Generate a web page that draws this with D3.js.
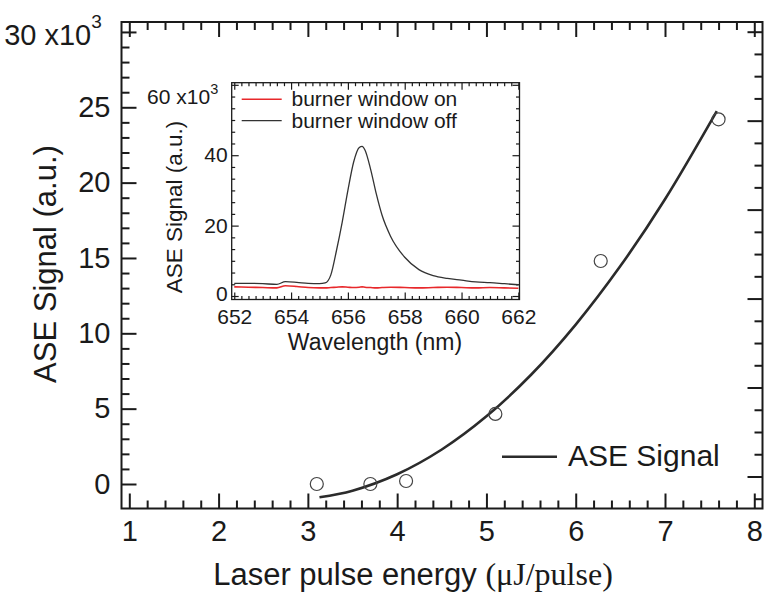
<!DOCTYPE html>
<html lang="en">
<head>
<meta charset="UTF-8">
<title>ASE signal vs laser pulse energy</title>
<style>
  body { margin: 0; background: #fff; }
  svg text { font-family: "Liberation Sans", Arial, sans-serif; fill: #1a1a1a; }
</style>
</head>
<body>
<script src="https://cdn.jsdelivr.net/npm/d3@7"></script>
<script>
// main plot: ASE signal (x10^3 a.u.) against laser pulse energy (uJ/pulse)
const energy    = [3.1, 3.7, 4.1, 5.1, 6.28, 7.6];
const aseSignal = [0.0, 0.0, 0.2, 4.65, 14.8, 24.2];
// fitted curve
const fitEnergy = [3.13, 3.5, 4.0, 4.5, 5.0, 5.5, 6.0, 6.5, 7.0, 7.58];
const fitSignal = [-0.88, -0.44, 0.65, 2.29, 4.49, 7.25, 10.58, 14.46, 18.9, 24.75];
const xTicks = [1, 2, 3, 4, 5, 6, 7, 8];
const yTicks = [0, 5, 10, 15, 20, 25, 30];

// inset: spectra around 656 nm (x10^3 a.u.)
const wavelength = [652.0, 652.5, 653.0, 653.5, 653.8, 654.2, 654.6, 655.0, 655.2, 655.4,
                    655.6, 655.8, 656.0, 656.2, 656.4, 656.5, 656.6, 656.8, 657.0, 657.2,
                    657.5, 658.0, 658.5, 659.0, 659.5, 660.0, 660.5, 661.0, 661.5, 662.0];
const windowOff  = [3.6, 3.6, 3.5, 3.3, 4.1, 3.9, 3.6, 3.5, 3.7, 6.0,
                    13, 21, 30, 38, 42.2, 42.5, 41.5, 36, 29, 23,
                    17, 11, 7.5, 5.8, 5.0, 4.5, 4.0, 3.8, 3.5, 3.2];
const windowOn   = [2.6, 2.5, 2.4, 2.3, 2.9, 2.7, 2.4, 2.3, 2.3, 2.4,
                    2.5, 2.6, 2.5, 2.4, 2.5, 2.6, 2.5, 2.4, 2.3, 2.4,
                    2.5, 2.4, 2.3, 2.4, 2.5, 2.4, 2.3, 2.4, 2.3, 2.2];
const insetXTicks = [652, 654, 656, 658, 660, 662];
const insetYTicks = [0, 20, 40, 60];
const seriesNames = ["burner window on", "burner window off"];

const W = 764, H = 592;
const svg = d3.select("body").append("svg").attr("width", W).attr("height", H);
svg.append("rect").attr("width", W).attr("height", H).attr("fill", "#fff");

const ink = "#1a1a1a";
const plot = {left: 121.5, right: 762.5, top: 22, bottom: 508.5};

const x = d3.scaleLinear().domain([0.9126, 8.092]).range([plot.left, plot.right]);
const y = d3.scaleLinear().domain([-1.626, 30.66]).range([plot.bottom, plot.top]);
// right spine carries its own (unlabelled) tick spacing
const yR = d3.scaleLinear().domain([-0.36, 5.109]).range([plot.bottom, plot.top]);

function styleAxis(g, width) {
  g.select(".domain").remove();
  g.selectAll(".tick line").attr("stroke", ink).attr("stroke-width", width);
}

const xMinor = d3.range(1, 8.01, 0.2).filter(v => Math.abs(v - Math.round(v)) > 0.01);
const yMinor = d3.range(0, 30.5, 1).filter(v => v % 5 !== 0);

// bottom
svg.append("g").attr("transform", `translate(0,${plot.bottom})`)
  .call(d3.axisBottom(x).tickValues(xMinor).tickSize(-8).tickFormat(""))
  .call(g => styleAxis(g, 2));
svg.append("g").attr("transform", `translate(0,${plot.bottom})`)
  .call(d3.axisBottom(x).tickValues(xTicks).tickSize(-15).tickPadding(12).tickFormat(d3.format("d")))
  .call(g => styleAxis(g, 2))
  .call(g => g.selectAll("text").attr("font-size", 29).attr("fill", ink).attr("font-family", null));
// top
svg.append("g").attr("transform", `translate(0,${plot.top})`)
  .call(d3.axisTop(x).tickValues(xMinor).tickSize(-8).tickFormat(""))
  .call(g => styleAxis(g, 2));
svg.append("g").attr("transform", `translate(0,${plot.top})`)
  .call(d3.axisTop(x).tickValues(xTicks).tickSize(-15).tickFormat(""))
  .call(g => styleAxis(g, 2));
// left
svg.append("g").attr("transform", `translate(${plot.left},0)`)
  .call(d3.axisLeft(y).tickValues(yMinor).tickSize(-8).tickFormat(""))
  .call(g => styleAxis(g, 2));
const leftAxis = svg.append("g").attr("transform", `translate(${plot.left},0)`)
  .call(d3.axisLeft(y).tickValues(yTicks).tickSize(-15).tickPadding(11).tickFormat(d => d === 30 ? "30 x10" : d))
  .call(g => styleAxis(g, 2))
  .call(g => g.selectAll("text").attr("font-size", 29).attr("fill", ink).attr("font-family", null));
leftAxis.selectAll(".tick text").filter(d => d === 30)
  .attr("dx", "-0.3em").attr("dy", "0.42em")
  .append("tspan").attr("dy", -17).attr("font-size", 19).text("3");
// right
svg.append("g").attr("transform", `translate(${plot.right},0)`)
  .call(d3.axisRight(yR).tickValues(d3.range(-0.25, 5.1, 0.25).filter(v => Math.abs(v - Math.round(v)) > 0.01)).tickSize(-8).tickFormat(""))
  .call(g => styleAxis(g, 2));
svg.append("g").attr("transform", `translate(${plot.right},0)`)
  .call(d3.axisRight(yR).tickValues([0, 1, 2, 3, 4, 5]).tickSize(-15).tickFormat(""))
  .call(g => styleAxis(g, 2));

svg.append("rect")
  .attr("x", plot.left).attr("y", plot.top)
  .attr("width", plot.right - plot.left).attr("height", plot.bottom - plot.top)
  .attr("fill", "none").attr("stroke", ink).attr("stroke-width", 2);

// fit curve and data points
const fitLine = d3.line().x(d => x(d[0])).y(d => y(d[1])).curve(d3.curveCatmullRom);
svg.append("path")
  .datum(d3.zip(fitEnergy, fitSignal))
  .attr("d", fitLine)
  .attr("fill", "none").attr("stroke", "#2b2b2b").attr("stroke-width", 2.6);

svg.append("g").selectAll("circle")
  .data(d3.zip(energy, aseSignal)).join("circle")
  .attr("cx", d => x(d[0])).attr("cy", d => y(d[1])).attr("r", 6.5)
  .attr("fill", "none").attr("stroke", "#444").attr("stroke-width", 1.2);

// legend
svg.append("line").attr("x1", 502).attr("x2", 557).attr("y1", 456.7).attr("y2", 456.7)
  .attr("stroke", "#2b2b2b").attr("stroke-width", 2.6);
svg.append("text").attr("x", 568).attr("y", 466).attr("font-size", 30).text("ASE Signal");

// axis titles
svg.append("text")
  .attr("transform", "translate(55.5,264) rotate(-90)")
  .attr("text-anchor", "middle").attr("font-size", 31)
  .text("ASE Signal (a.u.)");
const xt = svg.append("text")
  .attr("x", 413).attr("y", 585).attr("text-anchor", "middle").attr("font-size", 31);
xt.append("tspan").text("Laser pulse energy ");
xt.append("tspan").attr("font-family", '"Liberation Serif", "Times New Roman", serif').attr("font-size", 32).text("(μJ/pulse)");

// ---------- inset ----------
const box = {left: 231.7, right: 519.5, top: 82.7, bottom: 299.5};
const ix = d3.scaleLinear().domain([651.91, 662.04]).range([box.left, box.right]);
const iy = d3.scaleLinear().domain([-0.99, 60.6]).range([box.bottom, box.top]);

svg.append("rect")
  .attr("x", box.left).attr("y", box.top)
  .attr("width", box.right - box.left).attr("height", box.bottom - box.top)
  .attr("fill", "#fff");

const ixMinor = d3.range(652, 662.01, 0.25).filter(v => v % 2 !== 0);
const iyMinor = d3.range(0, 60.1, 20 / 6).filter(v => Math.abs(v / 20 - Math.round(v / 20)) > 0.01);

svg.append("g").attr("transform", `translate(0,${box.bottom})`)
  .call(d3.axisBottom(ix).tickValues(ixMinor).tickSize(-3.5).tickFormat(""))
  .call(g => styleAxis(g, 1.2));
svg.append("g").attr("transform", `translate(0,${box.bottom})`)
  .call(d3.axisBottom(ix).tickValues(insetXTicks).tickSize(-7).tickPadding(10).tickFormat(d3.format("d")))
  .call(g => styleAxis(g, 1.2))
  .call(g => g.selectAll("text").attr("font-size", 21).attr("fill", ink).attr("font-family", null));
svg.append("g").attr("transform", `translate(0,${box.top})`)
  .call(d3.axisTop(ix).tickValues(ixMinor).tickSize(-3.5).tickFormat(""))
  .call(g => styleAxis(g, 1.2));
svg.append("g").attr("transform", `translate(0,${box.top})`)
  .call(d3.axisTop(ix).tickValues(insetXTicks).tickSize(-7).tickFormat(""))
  .call(g => styleAxis(g, 1.2));
svg.append("g").attr("transform", `translate(${box.left},0)`)
  .call(d3.axisLeft(iy).tickValues(iyMinor).tickSize(-3.5).tickFormat(""))
  .call(g => styleAxis(g, 1.2));
const insetLeft = svg.append("g").attr("transform", `translate(${box.left},0)`)
  .call(d3.axisLeft(iy).tickValues(insetYTicks).tickSize(-7).tickPadding(4).tickFormat(d => d === 60 ? "60 x10" : d))
  .call(g => styleAxis(g, 1.2))
  .call(g => g.selectAll("text").attr("font-size", 21).attr("fill", ink).attr("font-family", null));
insetLeft.selectAll(".tick text").filter(d => d === 0).attr("dy", "0.22em");
insetLeft.selectAll(".tick text").filter(d => d === 60)
  .attr("dy", "0.9em").attr("dx", "-0.45em")
  .append("tspan").attr("dy", -10).attr("font-size", 14.5).text("3");
svg.append("g").attr("transform", `translate(${box.right},0)`)
  .call(d3.axisRight(iy).tickValues(iyMinor).tickSize(-3.5).tickFormat(""))
  .call(g => styleAxis(g, 1.2));
svg.append("g").attr("transform", `translate(${box.right},0)`)
  .call(d3.axisRight(iy).tickValues(insetYTicks).tickSize(-7).tickFormat(""))
  .call(g => styleAxis(g, 1.2));

const specLine = d3.line().x(d => ix(d[0])).y(d => iy(d[1])).curve(d3.curveMonotoneX);
svg.append("path").datum(d3.zip(wavelength, windowOff)).attr("d", specLine)
  .attr("fill", "none").attr("stroke", "#333").attr("stroke-width", 1.3);
svg.append("path").datum(d3.zip(wavelength, windowOn)).attr("d", specLine)
  .attr("fill", "none").attr("stroke", "#e8282b").attr("stroke-width", 1.6);

svg.append("rect")
  .attr("x", box.left).attr("y", box.top)
  .attr("width", box.right - box.left).attr("height", box.bottom - box.top)
  .attr("fill", "none").attr("stroke", ink).attr("stroke-width", 1.3);

// inset legend
const legColors = ["#e8282b", "#333"];
const leg = svg.append("g").selectAll("g").data(seriesNames).join("g")
  .attr("transform", (d, i) => `translate(0,${99.3 + i * 21.4})`);
leg.append("line").attr("x1", 241.7).attr("x2", 281.7)
  .attr("stroke", (d, i) => legColors[i]).attr("stroke-width", (d, i) => i === 0 ? 1.6 : 1.3);
leg.append("text").attr("x", 291.5).attr("y", 7).attr("font-size", 21).text(d => d);

// inset titles
svg.append("text")
  .attr("transform", "translate(182,207) rotate(-90)")
  .attr("text-anchor", "middle").attr("font-size", 22.5)
  .text("ASE Signal (a.u.)");
svg.append("text").attr("x", 375).attr("y", 350).attr("text-anchor", "middle").attr("font-size", 23)
  .text("Wavelength (nm)");
</script>
</body>
</html>
